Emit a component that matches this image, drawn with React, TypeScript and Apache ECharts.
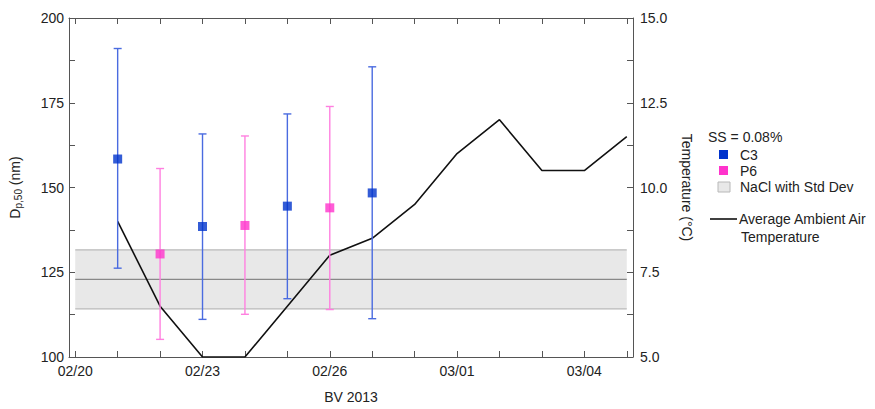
import React, { useEffect, useRef } from "react";
import * as echarts from "echarts";

// ---- data ----
const c3Dates = ["02/21", "02/23", "02/25", "02/27"];
const c3Mean = [158.4, 138.5, 144.5, 148.4];
const c3Low = [126.2, 111.1, 117.2, 111.3];
const c3High = [191.0, 165.8, 171.7, 185.6];

const p6Dates = ["02/22", "02/24", "02/26"];
const p6Mean = [130.4, 138.8, 144.0];
const p6Low = [105.2, 112.6, 114.0];
const p6High = [155.6, 165.2, 173.9];

const naclStart = "02/20";
const naclEnd = "03/05";
const naclLow = 114.2;
const naclMean = 122.9;
const naclHigh = 131.6;

const tempDates = ["02/21", "02/22", "02/23", "02/24", "02/25", "02/26", "02/27", "02/28", "03/01", "03/02", "03/03", "03/04", "03/05"];
const tempValues = [9.0, 6.5, 5.0, 5.0, 6.5, 8.0, 8.5, 9.5, 11.0, 12.0, 10.5, 10.5, 11.5];

const xTickDates = ["02/20", "02/21", "02/22", "02/23", "02/24", "02/25", "02/26", "02/27", "02/28", "03/01", "03/02", "03/03", "03/04", "03/05"];
const xLabelDates = ["02/20", "02/23", "02/26", "03/01", "03/04"];

// day offset from 02/20 (2013: February has 28 days)
const dayOf = (s: string) => {
  const [m, d] = s.split("/").map(Number);
  return m === 2 ? d - 20 : 28 - 20 + d;
};

const FONT = "Liberation Sans, Arial, sans-serif";
const TXT = "#222222";
const C3_MARK = "#0033cc";
const C3_BAR = "#4a6be0";
const P6_MARK = "#ff33cc";
const P6_BAR = "#ff80e0";
const AXIS = "#555555";

export default function App() {
  const ref = useRef<HTMLDivElement>(null);

  useEffect(() => {
    if (!ref.current) return;
    const chart = echarts.init(ref.current, undefined, { renderer: "svg" });

    const errRender = (color: string) => (params: any, api: any) => {
      const x = api.value(0);
      const lo = api.coord([x, api.value(1)]);
      const hi = api.coord([x, api.value(2)]);
      const hw = 4;
      const st = { stroke: color, lineWidth: 1.4 };
      return {
        type: "group",
        children: [
          { type: "line", shape: { x1: lo[0], y1: lo[1], x2: hi[0], y2: hi[1] }, style: st },
          { type: "line", shape: { x1: lo[0] - hw, y1: lo[1], x2: lo[0] + hw, y2: lo[1] }, style: st },
          { type: "line", shape: { x1: hi[0] - hw, y1: hi[1], x2: hi[0] + hw, y2: hi[1] }, style: st },
        ],
      };
    };

    const xMin = -0.147;
    const xMax = 13.147;
    const axisLine = { show: true, onZero: false, lineStyle: { color: AXIS, width: 1 } };

    const option: any = {
      animation: false,
      textStyle: { fontFamily: FONT },
      grid: { left: 67, right: 242, top: 18, bottom: 52, containLabel: false },
      xAxis: [
        {
          type: "value",
          min: xMin,
          max: xMax,
          position: "bottom",
          name: "BV 2013",
          nameLocation: "middle",
          nameGap: 33,
          nameTextStyle: { fontSize: 14, color: TXT, fontFamily: FONT },
          axisLine,
          axisTick: { show: true, inside: true, length: 6, customValues: xTickDates.map(dayOf), lineStyle: { color: AXIS } },
          axisLabel: {
            show: true,
            customValues: xLabelDates.map(dayOf),
            margin: 7,
            fontSize: 14,
            color: TXT,
            fontFamily: FONT,
            formatter: (v: number) => xLabelDates[xLabelDates.map(dayOf).indexOf(Math.round(v))] ?? "",
          },
          splitLine: { show: false },
        },
        {
          type: "value",
          min: xMin,
          max: xMax,
          position: "top",
          axisLine,
          axisTick: { show: true, inside: true, length: 6, customValues: xTickDates.map(dayOf), lineStyle: { color: AXIS } },
          axisLabel: { show: false },
          splitLine: { show: false },
        },
      ],
      yAxis: [
        {
          type: "value",
          min: 100,
          max: 200,
          interval: 12.5,
          position: "left",
          name: "{m|D}{s|p,50}{m| (nm)}",
          nameLocation: "middle",
          nameRotate: 90,
          nameGap: 46,
          nameTextStyle: {
            color: TXT,
            rich: {
              m: { fontSize: 14, fontFamily: FONT, color: TXT, lineHeight: 16 },
              s: { fontSize: 10, fontFamily: FONT, color: TXT, lineHeight: 6, verticalAlign: "bottom" },
            },
          },
          axisLine,
          axisTick: { show: true, inside: true, length: 6, lineStyle: { color: AXIS } },
          axisLabel: {
            margin: 5,
            fontSize: 14,
            color: TXT,
            fontFamily: FONT,
            formatter: (v: number) => (v % 25 === 0 ? String(v) : ""),
          },
          splitLine: { show: false },
        },
        {
          type: "value",
          min: 5,
          max: 15,
          interval: 1.25,
          position: "right",
          name: "Temperature (°C)",
          nameLocation: "middle",
          nameRotate: -90,
          nameGap: 47,
          nameTextStyle: { fontSize: 14, color: TXT, fontFamily: FONT },
          axisLine,
          axisTick: { show: true, inside: true, length: 6, lineStyle: { color: AXIS } },
          axisLabel: {
            margin: 7,
            fontSize: 14,
            color: TXT,
            fontFamily: FONT,
            formatter: (v: number) => (Math.abs(v / 2.5 - Math.round(v / 2.5)) < 1e-6 ? v.toFixed(1) : ""),
          },
          splitLine: { show: false },
        },
      ],
      series: [
        {
          name: "NaCl",
          type: "custom",
          xAxisIndex: 0,
          yAxisIndex: 0,
          z: 1,
          data: [[dayOf(naclStart), dayOf(naclEnd), naclLow, naclMean, naclHigh]],
          encode: { x: [0, 1], y: [2, 3, 4] },
          renderItem: (params: any, api: any) => {
            const x0 = api.value(0);
            const x1 = api.value(1);
            const pLo0 = api.coord([x0, api.value(2)]);
            const pLo1 = api.coord([x1, api.value(2)]);
            const pMid0 = api.coord([x0, api.value(3)]);
            const pMid1 = api.coord([x1, api.value(3)]);
            const pHi0 = api.coord([x0, api.value(4)]);
            return {
              type: "group",
              children: [
                {
                  type: "rect",
                  shape: { x: pHi0[0], y: pHi0[1], width: pLo1[0] - pHi0[0], height: pLo0[1] - pHi0[1] },
                  style: { fill: "#e8e8e8" },
                },
                { type: "line", shape: { x1: pHi0[0], y1: pHi0[1], x2: pLo1[0], y2: pHi0[1] }, style: { stroke: "#b8b8b8", lineWidth: 1.2 } },
                { type: "line", shape: { x1: pLo0[0], y1: pLo0[1], x2: pLo1[0], y2: pLo1[1] }, style: { stroke: "#b8b8b8", lineWidth: 1.2 } },
                { type: "line", shape: { x1: pMid0[0], y1: pMid0[1], x2: pMid1[0], y2: pMid1[1] }, style: { stroke: "#888888", lineWidth: 1.2 } },
              ],
            };
          },
        },
        {
          name: "Temperature",
          type: "line",
          xAxisIndex: 0,
          yAxisIndex: 1,
          z: 3,
          symbol: "none",
          lineStyle: { color: "#111111", width: 1.6 },
          data: tempDates.map((d, i) => [dayOf(d), tempValues[i]]),
        },
        {
          name: "C3 err",
          type: "custom",
          xAxisIndex: 0,
          yAxisIndex: 0,
          z: 4,
          renderItem: errRender(C3_BAR),
          encode: { x: 0, y: [1, 2] },
          data: c3Dates.map((d, i) => [dayOf(d), c3Low[i], c3High[i]]),
        },
        {
          name: "P6 err",
          type: "custom",
          xAxisIndex: 0,
          yAxisIndex: 0,
          z: 4,
          renderItem: errRender(P6_BAR),
          encode: { x: 0, y: [1, 2] },
          data: p6Dates.map((d, i) => [dayOf(d), p6Low[i], p6High[i]]),
        },
        {
          name: "C3",
          type: "scatter",
          xAxisIndex: 0,
          yAxisIndex: 0,
          z: 5,
          symbol: "rect",
          symbolSize: 9,
          itemStyle: { color: C3_MARK },
          data: c3Dates.map((d, i) => [dayOf(d), c3Mean[i]]),
        },
        {
          name: "P6",
          type: "scatter",
          xAxisIndex: 0,
          yAxisIndex: 0,
          z: 5,
          symbol: "rect",
          symbolSize: 9,
          itemStyle: { color: P6_MARK },
          data: p6Dates.map((d, i) => [dayOf(d), p6Mean[i]]),
        },
      ],
      graphic: [
        { type: "text", left: 708, top: 130, style: { text: "SS = 0.08%", font: `14px ${FONT}`, fill: TXT } },
        { type: "rect", shape: { x: 719, y: 150, width: 9, height: 9 }, style: { fill: C3_MARK } },
        { type: "text", x: 740, y: 155, style: { text: "C3", font: `14px ${FONT}`, fill: TXT, textVerticalAlign: "middle" } },
        { type: "rect", shape: { x: 719, y: 166, width: 9, height: 9 }, style: { fill: P6_MARK } },
        { type: "text", x: 740, y: 171, style: { text: "P6", font: `14px ${FONT}`, fill: TXT, textVerticalAlign: "middle" } },
        { type: "rect", shape: { x: 718, y: 182, width: 12, height: 10 }, style: { fill: "#e8e8e8", stroke: "#b8b8b8", lineWidth: 1 } },
        { type: "text", x: 740, y: 187, style: { text: "NaCl with Std Dev", font: `14px ${FONT}`, fill: TXT, textVerticalAlign: "middle" } },
        { type: "line", shape: { x1: 710, y1: 219, x2: 737, y2: 219 }, style: { stroke: "#111", lineWidth: 1.6 } },
        { type: "text", x: 739, y: 219, style: { text: "Average Ambient Air", font: `14px ${FONT}`, fill: TXT, textVerticalAlign: "middle" } },
        { type: "text", x: 741, y: 237, style: { text: "Temperature", font: `14px ${FONT}`, fill: TXT, textVerticalAlign: "middle" } },
      ],
    };

    chart.setOption(option);
    return () => chart.dispose();
  }, []);

  return <div ref={ref} style={{ position: "fixed", left: 0, top: 0, width: 875, height: 409, background: "#fff" }} />;
}
